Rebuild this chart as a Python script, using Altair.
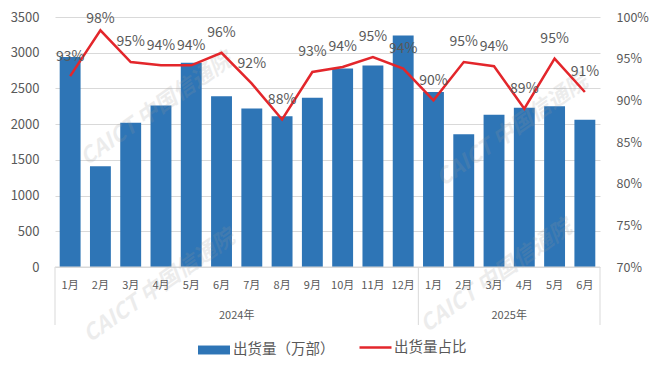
import altair as alt
import pandas as pd

# ---- data ----
years = ["2024"] * 12 + ["2025"] * 6
months = ["1月", "2月", "3月", "4月", "5月", "6月", "7月", "8月", "9月", "10月", "11月", "12月",
          "1月", "2月", "3月", "4月", "5月", "6月"]
shipments = [2940, 1410, 2020, 2260, 2860, 2390, 2220, 2110, 2370, 2780, 2820, 3240,
             2450, 1860, 2130, 2230, 2250, 2060]
share = [92.9, 98.4, 94.6, 94.2, 94.2, 95.7, 92.0, 87.7, 93.4, 94.0, 95.2, 93.8,
         90.0, 94.6, 94.1, 89.0, 95.0, 91.0]
left_ticks = [0, 500, 1000, 1500, 2000, 2500, 3000, 3500]
right_ticks = [70, 75, 80, 85, 90, 95, 100]
group_labels = ["2024年", "2025年"]
series_bar = "出货量（万部）"
series_line = "出货量占比"

# unique category keys: 2025 months get an invisible zero-width suffix
keys = [m if y == "2024" else m + "\u200b" for y, m in zip(years, months)]
group_anchor = [keys[5], keys[14]]     # band whose right edge is the group centre
group_start = [keys[0], keys[12]]      # bands whose left edge gets a separator

df = pd.DataFrame({"key": keys, "month": months, "year": years,
                   "shipments": shipments, "share": share})
groups_df = pd.DataFrame({"key": group_anchor, "label": group_labels})
starts_df = pd.DataFrame({"key": group_start})
end_df = pd.DataFrame({"key": [keys[-1]]})

W, H = 545, 250
TOP = 9
BLUE = "#2e75b6"
RED = "#e3262b"
GREY = "#595959"
GRID = "#d9d9d9"
FONT = "Noto Sans CJK SC"

xs = alt.Scale(domain=keys, paddingInner=0, paddingOuter=0)
x_axis = alt.Axis(title=None, labelAngle=0, ticks=False, domain=False,
                  labelColor=GREY, labelFontSize=11, labelPadding=12, grid=False)
y_right_scale = alt.Scale(domain=[70, 100])
y_right_axis = alt.Axis(title=None, orient="right", values=right_ticks,
                        labelExpr="datum.value + '%'", grid=False, ticks=False,
                        domain=False, labelPadding=16, labelFontSize=12.5, labelColor=GREY)

bars = alt.Chart(df).mark_bar(width={"band": 0.69}).encode(
    x=alt.X("key:N", scale=xs, sort=None, axis=x_axis),
    y=alt.Y("shipments:Q", scale=alt.Scale(domain=[0, 3500]),
            axis=alt.Axis(title=None, values=left_ticks, format="d", ticks=False,
                          domain=False, gridColor=GRID, labelPadding=16,
                          labelFontSize=13, labelColor=GREY)),
    fill=alt.Fill("series:N", scale=alt.Scale(domain=[series_bar], range=[BLUE]),
                  legend=alt.Legend(orient="none", legendX=143, legendY=317, title=None,
                                    symbolType="M-1,-0.28H1V0.28H-1Z", symbolSize=1024,
                                    symbolStrokeWidth=0, labelFontSize=14.5,
                                    labelColor=GREY, labelOffset=3, padding=0)),
).transform_calculate(series=f"'{series_bar}'")

wm_texts = []
for cx, cy in [(156 - 55, 109 - 17), (159 - 55, 286 - 17), (496 - 55, 276 - 17), (512 - 55, 130 - 17)]:
    wm_texts.append(
        alt.Chart(df).mark_text(text="CAICT 中国信通院", angle=325, fontSize=22,
                                fontWeight="bold", fontStyle="italic", color="#9a9a9a",
                                opacity=0.18).encode(x=alt.value(cx), y=alt.value(cy))
        .transform_filter(alt.datum.shipments == shipments[0])
    )

sep_rules = alt.Chart(starts_df).mark_rule(color=GRID, strokeWidth=1).encode(
    x=alt.X("key:N", scale=xs, bandPosition=0, axis=x_axis),
    y=alt.value(H), y2=alt.value(H + 58))
end_rule = alt.Chart(end_df).mark_rule(color=GRID, strokeWidth=1).encode(
    x=alt.X("key:N", scale=xs, bandPosition=1, axis=x_axis),
    y=alt.value(H), y2=alt.value(H + 58))
base_rule = alt.Chart(end_df).mark_rule(color=GRID, strokeWidth=1).encode(
    x=alt.value(0), x2=alt.value(W), y=alt.value(H))

year_text = alt.Chart(groups_df).mark_text(fontSize=11, color=GREY, baseline="middle").encode(
    x=alt.X("key:N", scale=xs, bandPosition=1, axis=x_axis),
    y=alt.value(H + 49), text="label:N")

line = alt.Chart(df).mark_line(strokeWidth=2.5).encode(
    x=alt.X("key:N", scale=xs, sort=None, axis=x_axis),
    y=alt.Y("share:Q", scale=y_right_scale, axis=y_right_axis),
    stroke=alt.Stroke("series2:N", scale=alt.Scale(domain=[series_line], range=[RED]),
                      legend=alt.Legend(orient="none", legendX=303, legendY=313, title=None,
                                        symbolType="stroke", symbolSize=1024,
                                        symbolStrokeWidth=2.5, labelFontSize=14.5,
                                        labelColor=GREY, labelOffset=1, padding=0)),
).transform_calculate(series2=f"'{series_line}'")

pct_text = alt.Chart(df).mark_text(fontSize=14, color=GREY, baseline="middle").encode(
    x=alt.X("key:N", scale=xs, sort=None, axis=x_axis),
    y=alt.Y("label_y:Q", scale=y_right_scale, axis=y_right_axis),
    text="label:N",
).transform_calculate(
    label="format(datum.share, '.0f') + '%'",
    label_y="min(datum.share + 2.35, 99.8)",
)

left_layer = alt.layer(bars, *wm_texts, sep_rules, end_rule, base_rule, year_text)
right_layer = alt.layer(line, pct_text)

chart = alt.layer(left_layer, right_layer).resolve_scale(
    y="independent", fill="independent", stroke="independent"
).properties(
    width=W, height=H,
    autosize=alt.AutoSizeParams(type="none"),
    padding={"left": 47, "top": TOP, "right": 49, "bottom": 354 - TOP - H},
).configure(font=FONT).configure_view(stroke=None).configure_legend(labelFont=FONT)

chart.save("out.html", embed_options={"renderer": "svg", "actions": False})
